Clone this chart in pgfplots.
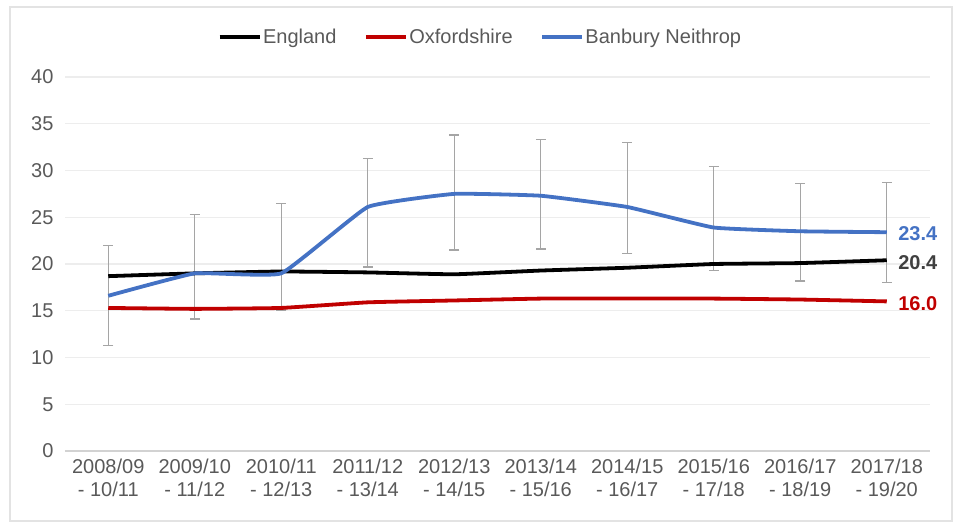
\documentclass[border=0pt]{standalone}
\usepackage{fontspec}
\setmainfont{Liberation Sans}
\usepackage{pgfplots}
\usepackage{pgfplotstable}
\pgfplotsset{compat=1.18}
\definecolor{engc}{HTML}{000000}
\definecolor{oxfc}{HTML}{C00000}
\definecolor{banc}{HTML}{4472C4}
\definecolor{txtc}{HTML}{595959}
\definecolor{gridc}{HTML}{EDEDED}
\definecolor{errc}{HTML}{A5A5A5}
\definecolor{framec}{HTML}{E3E3E3}

\pgfplotstableread{
x eng oxf ban ep em
0 18.7 15.3 16.6 5.4 5.3
1 19.0 15.2 19.0 6.3 4.9
2 19.2 15.3 19.0 7.5 3.9
3 19.1 15.9 26.1 5.2 6.4
4 18.9 16.1 27.5 6.3 6.0
5 19.3 16.3 27.3 6.0 5.7
6 19.6 16.3 26.1 6.9 5.0
7 20.0 16.3 23.9 6.5 4.6
8 20.1 16.2 23.5 5.1 5.3
9 20.4 16.0 23.4 5.3 5.4
}\datatable

\begin{document}
\begin{tikzpicture}
\begin{axis}[
  scale only axis, width=865bp, height=374bp,
  xmin=-0.5, xmax=9.5, ymin=0, ymax=40,
  ytick={0,5,...,40},
  xtick={0,...,9},
  xticklabels={{2008/09\\- 10/11},{2009/10\\- 11/12},{2010/11\\- 12/13},{2011/12\\- 13/14},{2012/13\\- 14/15},{2013/14\\- 15/16},{2014/15\\- 16/17},{2015/16\\- 17/18},{2016/17\\- 18/19},{2017/18\\- 19/20}},
  xticklabel style={align=center, font=\fontsize{20bp}{23bp}\selectfont, text=txtc, yshift=-4bp},
  yticklabel style={font=\fontsize{20bp}{22bp}\selectfont, text=txtc, xshift=-8bp},
  /pgf/number format/assume math mode=true,
  ymajorgrids, grid style={gridc, line width=1.3bp},
  major tick length=0pt,
  separate axis lines,
  axis x line*=bottom,
  x axis line style={draw=gray!35, line width=1.3bp},
  y axis line style={draw=none},
  legend columns=3,
  legend style={at={(0.48,1.107)}, anchor=center, draw=none, fill=none,
    font=\fontsize{20bp}{22bp}\selectfont, text=txtc,
    /tikz/every even column/.append style={column sep=26bp},
    nodes={inner xsep=1.5bp}},
  legend image code/.code={\draw[#1] (0bp,0bp) -- (40bp,0bp);},
  clip=false,
]
\addplot[draw=none, mark=none, forget plot,
  error bars/.cd, y dir=both, y explicit,
  error bar style={errc, line width=1.4bp},
  error mark options={errc, line width=1.4bp, mark size=5bp, rotate=90}]
  table[x=x, y=ban, y error plus=ep, y error minus=em] {\datatable};
\addplot[engc, line width=3.8bp, smooth, tension=0.2, mark=none] table[x=x, y=eng] {\datatable};
\addlegendentry{England}
\addplot[oxfc, line width=3.8bp, smooth, tension=0.2, mark=none] table[x=x, y=oxf] {\datatable};
\addlegendentry{Oxfordshire}
\addplot[banc, line width=3.8bp, smooth, tension=0.2, mark=none] table[x=x, y=ban] {\datatable};
\addlegendentry{Banbury Neithrop}
\node[anchor=west, text=banc, font=\fontsize{20bp}{22bp}\selectfont\bfseries, xshift=8bp, yshift=-1bp] at (axis cs:9,23.4) {23.4};
\node[anchor=west, text=black!75, font=\fontsize{20bp}{22bp}\selectfont\bfseries, xshift=8bp, yshift=-2bp] at (axis cs:9,20.4) {20.4};
\node[anchor=west, text=oxfc, font=\fontsize{20bp}{22bp}\selectfont\bfseries, xshift=8bp, yshift=-2bp] at (axis cs:9,16.0) {16.0};
\end{axis}
\path (-65bp,-73bp) rectangle (892bp,451bp);
\draw[framec, line width=1.2bp] (-55bp,-70bp) rectangle (887bp,444bp);
\end{tikzpicture}
\end{document}
